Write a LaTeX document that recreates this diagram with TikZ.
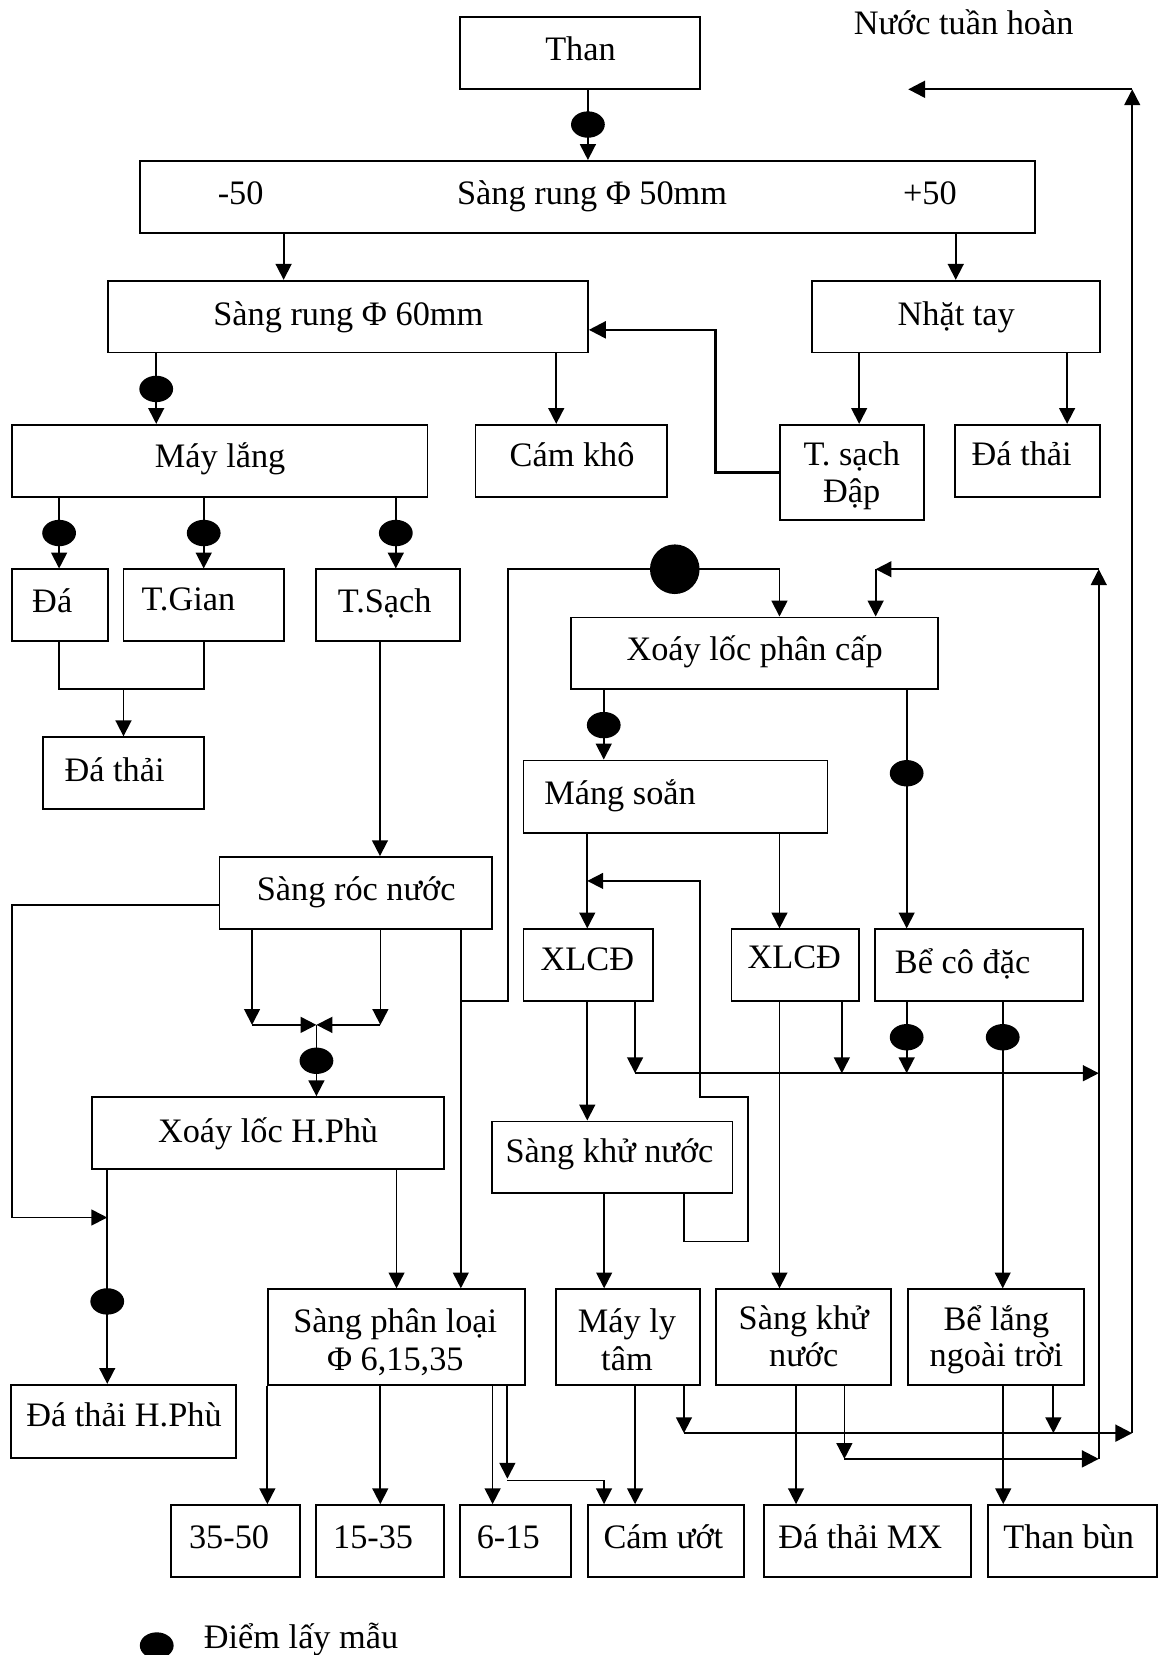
\documentclass[tikz,border=0pt]{standalone}
\usepackage{fontspec}
\setmainfont{Liberation Serif}
\usetikzlibrary{arrows.meta,shapes.geometric}
% a framed box given by its corners: name, x1, y1, x2, y2
\newcommand\bx[5]{\node[box, minimum width={(#4)-(#2)}, minimum height={(#5)-(#3)}] (#1) at ({((#2)+(#4))/2},{((#3)+(#5))/2}) {};}
% a line of text centred on x, with its body centred on y
\newcommand\tx[4]{\node[txt] (#1) at (#2,{(#3)+11}) {#4};}
\begin{document}
\begin{tikzpicture}[x=1pt,y=-1pt,
  box/.style={draw, line width=1.8pt, inner sep=0pt, rectangle},
  txt/.style={anchor=base, inner sep=0pt, font=\fontsize{32.5}{34.5}\selectfont},
  ln/.style={line width=1.7pt},
  arr/.style={line width=1.7pt, -{Triangle[length=15pt,width=15pt]}},
  arrb/.style={line width=2.2pt, -{Triangle[length=16pt,width=16pt]}},
  dot/.style={ellipse, fill=black, minimum width=32pt, minimum height=25pt, inner sep=0pt},
  bigdot/.style={circle, fill=black, minimum size=47pt, inner sep=0pt},
]
\useasboundingbox (0,0) rectangle (1097,1568);

% ---------- boxes ----------
\bx{than}{436}{16}{663}{84.5}
\bx{sr50}{132.5}{152.5}{981}{220.5}
\bx{sr60}{102}{266}{557}{334}
\bx{nhat}{769}{266}{1042}{334}
\bx{mlang}{11}{402.5}{405}{471}
\bx{camkho}{450.5}{402.5}{632}{471}
\bx{tsd}{739}{402.5}{875}{493}
\bx{dathai1}{905}{402.5}{1042}{471}
\bx{da}{11}{539.5}{102}{607}
\bx{tgian}{117}{539.5}{269}{607}
\bx{tsach}{299}{539.5}{436}{607}
\bx{dathai2}{41}{698.5}{193}{766.5}
\bx{xlpc}{541}{585}{889}{653}
\bx{mang}{496}{720.5}{784}{789.5}
\bx{roc}{208}{812}{466}{880.5}
\bx{xlcd1}{496}{880.5}{618.5}{948.5}
\bx{xlcd2}{693}{880.5}{814}{948.5}
\bx{becd}{829}{880.5}{1026}{948.5}
\bx{xlhp}{87}{1039.5}{421}{1107.5}
\bx{skn1}{466}{1062.5}{694}{1130.5}
\bx{spl}{253.5}{1221.5}{497}{1312}
\bx{mlt}{526.5}{1221.5}{663}{1312}
\bx{skn2}{678}{1221.5}{844}{1312}
\bx{bl}{860}{1221.5}{1027}{1312}
\bx{dthp}{10.5}{1312}{224}{1381}
\bx{b3550}{162}{1426}{284}{1494.5}
\bx{b1535}{299.5}{1426}{420.5}{1494.5}
\bx{b615}{436}{1426}{541}{1494.5}
\bx{camuot}{557}{1426}{705}{1494.5}
\bx{dtmx}{723.5}{1426}{920}{1494.5}
\bx{thanbun}{936}{1426}{1096}{1494.5}

% ---------- texts ----------
\tx{t-than}{550}{46}{Than}
\tx{t-m50}{228}{183}{-50}
\tx{t-sr50}{561}{183}{Sàng rung Φ 50mm}
\tx{t-p50}{881}{183}{+50}
\tx{t-sr60}{330}{297}{Sàng rung Φ 60mm}
\tx{t-nhat}{906}{297}{Nhặt tay}
\tx{t-mlang}{208.5}{432}{Máy lắng}
\tx{t-camkho}{542}{431}{Cám khô}
\tx{t-tsd1}{807}{430}{T. sạch}
\tx{t-tsd2}{807}{465}{Đập}
\tx{t-dt1}{968}{430}{Đá thải}
\tx{t-da}{49.5}{569}{Đá}
\tx{t-tgian}{178.5}{567}{T.Gian}
\tx{t-tsach}{364.5}{569}{T.Sạch}
\tx{t-dt2}{108.5}{729}{Đá thải}
\tx{t-xlpc}{715}{615}{Xoáy lốc phân cấp}
\tx{t-mang}{587.5}{751}{Máng soắn}
\tx{t-roc}{337.5}{842}{Sàng róc nước}
\tx{t-xl1}{556.5}{908}{XLCĐ}
\tx{t-xl2}{752.5}{907}{XLCĐ}
\tx{t-becd}{912}{911}{Bể cô đặc}
\tx{t-xlhp}{254}{1071}{Xoáy lốc H.Phù}
\tx{t-skn1}{577.5}{1090}{Sàng khử nước}
\tx{t-spl1}{374.5}{1251}{Sàng phân loại}
\tx{t-spl2}{374.5}{1287}{Φ 6,15,35}
\tx{t-mlt1}{594}{1251}{Máy ly}
\tx{t-mlt2}{594}{1287}{tâm}
\tx{t-skn21}{761.5}{1249}{Sàng khử}
\tx{t-skn22}{761.5}{1284}{nước}
\tx{t-bl1}{944}{1250}{Bể lắng}
\tx{t-bl2}{944}{1284}{ngoài trời}
\tx{t-dthp}{117.5}{1340.5}{Đá thải H.Phù}
\tx{t-3550}{217}{1456}{35-50}
\tx{t-1535}{353.5}{1456}{15-35}
\tx{t-615}{481.5}{1456}{6-15}
\tx{t-camuot}{628.5}{1456}{Cám ướt}
\tx{t-dtmx}{815}{1456}{Đá thải MX}
\tx{t-thanbun}{1012.5}{1456}{Than bùn}
\tx{t-nuoc}{913}{22}{Nước tuần hoàn}
\node[txt, anchor=base west] (t-legend) at (193,1562) {Điểm lấy mẫu};

% ---------- junction points ----------
\coordinate (hpj) at (101.6,1153.5);
\coordinate (mergej) at (299.8,971);
\coordinate (recj) at (556.4,834.6);
\coordinate (busA) at (1041,1016.8);
\coordinate (retA) at (1041,539.3);
\coordinate (retB) at (1072.7,84.6);

% ---------- connectors ----------
\draw[arr] (557,0 |- than.south) -- (557,0 |- sr50.north);
\draw[arr] (268.7,0 |- sr50.south) -- (268.7,0 |- sr60.north);
\draw[arr] (905.5,0 |- sr50.south) -- (905.5,0 |- nhat.north);
\draw[arr] (148,0 |- sr60.south) -- (148,0 |- mlang.north);
\draw[arr] (527,0 |- sr60.south) -- (527,0 |- camkho.north);
\draw[arrb] (tsd.west) -- (678,0 |- tsd.west) -- (678,312.5) -- (sr60.east |- 0,312.5);
\draw[arr] (814,0 |- nhat.south) -- (814,0 |- tsd.north);
\draw[arr] (1011,0 |- nhat.south) -- (1011,0 |- dathai1.north);

\draw[arr] (56,0 |- mlang.south) -- (56,0 |- da.north);
\draw[arr] (193,0 |- mlang.south) -- (193,0 |- tgian.north);
\draw[arr] (375,0 |- mlang.south) -- (375,0 |- tsach.north);
\draw[ln] (56,0 |- da.south) -- (56,652.7) -- (193,652.7) -- (193,0 |- tgian.south);
\draw[arr] (117,652.7) -- (117,0 |- dathai2.north);
\draw[arr] (360,0 |- tsach.south) -- (360,0 |- roc.north);

% Sàng róc nước outlets
\draw[arr] (roc.west |- 0,857.6) -- (11,857.6) -- (11,1153.5) -- (hpj);
\draw[arr] (238.8,0 |- roc.south) -- (238.8,971);
\draw[arr] (360.4,0 |- roc.south) -- (360.4,971);
\draw[arr] (238.8,971) -- (mergej);
\draw[arr] (360.4,971) -- (mergej);
\draw[arr] (mergej) -- (299.8,0 |- xlhp.north);
\draw[arr] (436.6,0 |- roc.south) -- (436.6,0 |- spl.north);
\draw[arr] (436.6,948.3) -- (481.5,948.3) -- (481.5,539.3) -- (738.5,539.3) -- (738.5,0 |- xlpc.north);

% return water to the classifying cyclone
\draw[arr] (1041,1382.2) -- (retA);
\draw[arr] (retA) -- (829.6,539.3);
\draw[arr] (829.6,539.3) -- (829.6,0 |- xlpc.north);

\draw[arr] (572,0 |- xlpc.south) -- (572,0 |- mang.north);
\draw[arr] (859,0 |- xlpc.south) -- (859,0 |- becd.north);
\draw[arr] (556.4,0 |- mang.south) -- (556.4,0 |- xlcd1.north);
\draw[arr] (738.5,0 |- mang.south) -- (738.5,0 |- xlcd2.north);
\draw[arr] (648,0 |- skn1.south) -- (648,1176.3) -- (709,1176.3) -- (709,1039.5) -- (663,1039.5) -- (663,834.6) -- (recj);

\draw[arr] (556.4,0 |- xlcd1.south) -- (556.4,0 |- skn1.north);
\draw[arr] (601.7,0 |- xlcd1.south) -- (601.7,1016.8);
\draw[arr] (601.7,1016.8) -- (busA);
\draw[arr] (738.5,0 |- xlcd2.south) -- (738.5,0 |- skn2.north);
\draw[arr] (797.6,0 |- xlcd2.south) -- (797.6,1016.8);
\draw[arr] (859,0 |- becd.south) -- (859,1016.8);
\draw[arr] (950,0 |- becd.south) -- (950,0 |- bl.north);

\draw[arr] (572.4,0 |- skn1.south) -- (572.4,0 |- mlt.north);
\draw[arr] (375.7,0 |- xlhp.south) -- (375.7,0 |- spl.north);
\draw[arr] (101.6,0 |- xlhp.south) -- (101.6,0 |- dthp.north);

% Sàng phân loại products
\draw[arr] (253.3,0 |- spl.south) -- (253.3,0 |- b3550.north);
\draw[arr] (360.3,0 |- spl.south) -- (360.3,0 |- b1535.north);
\draw[arr] (466.7,0 |- spl.south) -- (466.7,0 |- b615.north);
\draw[arr] (480.7,0 |- spl.south) -- (480.7,1401);
\draw[arr] (480.7,1402.7) -- (572.3,1402.7) -- (572.3,0 |- camuot.north);

\draw[arr] (601.7,0 |- mlt.south) -- (601.7,0 |- camuot.north);
\draw[arr] (648,0 |- mlt.south) -- (648,1357.8);
\draw[arrb] (648,1357.8) -- (1072.7,1357.8);
\draw[arr] (754.2,0 |- skn2.south) -- (754.2,0 |- dtmx.north);
\draw[arr] (800,0 |- skn2.south) -- (800,1382.2);
\draw[arrb] (800,1382.2) -- (1041,1382.2);
\draw[arr] (950.5,0 |- bl.south) -- (950.5,0 |- thanbun.north);
\draw[arr] (998,0 |- bl.south) -- (998,1357.8);

% recirculated water
\draw[arr] (1072.7,1357.8) -- (retB);
\draw[arrb] (retB) -- (860.5,84.6);

% ---------- sampling points ----------
\node[dot] (s1) at (557,118) {};
\node[dot] (s2) at (148,368.5) {};
\node[dot] (s3) at (56,505) {};
\node[dot] (s4) at (193,505) {};
\node[dot] (s5) at (375,505) {};
\node[bigdot] (s6) at (639.3,539.3) {};
\node[dot] (s7) at (572,687) {};
\node[dot] (s8) at (859,732.6) {};
\node[dot] (s9) at (299.8,1005) {};
\node[dot] (s10) at (859,982.7) {};
\node[dot] (s11) at (950,982.7) {};
\node[dot] (s12) at (101.6,1233) {};
\node[dot] (legdot) at (148.5,1559) {};
\end{tikzpicture}
\end{document}
